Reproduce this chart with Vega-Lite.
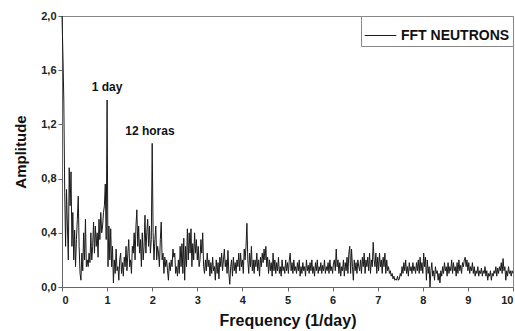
{
  "$schema": "https://vega.github.io/schema/vega-lite/v6.json",
  "width": 451,
  "height": 271,
  "autosize": {"type": "none"},
  "padding": {"left": 62, "top": 16, "right": 2, "bottom": 44},
  "background": "white",
  "config": {
    "view": {"stroke": "#888", "strokeWidth": 1},
    "font": "Liberation Sans",
    "axis": {
      "grid": false,
      "domainColor": "#666",
      "tickColor": "#666",
      "tickSize": 4,
      "labelFont": "Liberation Sans",
      "labelFontWeight": "bold",
      "labelFontSize": 11,
      "labelColor": "#222",
      "titleFont": "Liberation Sans",
      "titleFontWeight": "bold",
      "titleFontSize": 15,
      "titleColor": "#111"
    }
  },
  "datasets": {
    "fft": [
      {"f":0.00,"a":2.0},{"f":0.02,"a":1.72},{"f":0.04,"a":1.38},{"f":0.06,"a":0.7},{"f":0.08,"a":0.3},{"f":0.10,"a":0.72},{"f":0.12,"a":0.45},{"f":0.14,"a":0.2},{"f":0.16,"a":0.88},{"f":0.18,"a":0.6},
      {"f":0.20,"a":0.85},{"f":0.22,"a":0.3},{"f":0.24,"a":0.55},{"f":0.26,"a":0.2},{"f":0.28,"a":0.42},{"f":0.30,"a":0.15},{"f":0.32,"a":0.35},{"f":0.34,"a":0.5},{"f":0.36,"a":0.67},{"f":0.38,"a":0.3},
      {"f":0.40,"a":0.1},{"f":0.42,"a":0.05},{"f":0.44,"a":0.25},{"f":0.46,"a":0.12},{"f":0.48,"a":0.4},{"f":0.50,"a":0.2},{"f":0.52,"a":0.5},{"f":0.54,"a":0.15},{"f":0.56,"a":0.2},{"f":0.58,"a":0.15},
      {"f":0.60,"a":0.25},{"f":0.62,"a":0.18},{"f":0.64,"a":0.4},{"f":0.66,"a":0.2},{"f":0.68,"a":0.3},{"f":0.70,"a":0.48},{"f":0.72,"a":0.25},{"f":0.74,"a":0.45},{"f":0.76,"a":0.3},{"f":0.78,"a":0.4},
      {"f":0.80,"a":0.22},{"f":0.82,"a":0.5},{"f":0.84,"a":0.35},{"f":0.86,"a":0.55},{"f":0.88,"a":0.4},{"f":0.90,"a":0.45},{"f":0.92,"a":0.55},{"f":0.94,"a":0.6},{"f":0.96,"a":0.76},{"f":0.98,"a":0.35},
      {"f":1.00,"a":1.38},{"f":1.02,"a":0.15},{"f":1.04,"a":0.45},{"f":1.06,"a":0.2},{"f":1.08,"a":0.43},{"f":1.10,"a":0.15},{"f":1.12,"a":0.3},{"f":1.14,"a":0.03},{"f":1.16,"a":0.2},{"f":1.18,"a":0.1},
      {"f":1.20,"a":0.28},{"f":1.22,"a":0.12},{"f":1.24,"a":0.15},{"f":1.26,"a":0.05},{"f":1.28,"a":0.2},{"f":1.30,"a":0.25},{"f":1.32,"a":0.1},{"f":1.34,"a":0.18},{"f":1.36,"a":0.08},{"f":1.38,"a":0.22},
      {"f":1.40,"a":0.15},{"f":1.42,"a":0.3},{"f":1.44,"a":0.12},{"f":1.46,"a":0.25},{"f":1.48,"a":0.35},{"f":1.50,"a":0.15},{"f":1.52,"a":0.2},{"f":1.54,"a":0.1},{"f":1.56,"a":0.3},{"f":1.58,"a":0.25},
      {"f":1.60,"a":0.4},{"f":1.62,"a":0.2},{"f":1.64,"a":0.45},{"f":1.66,"a":0.57},{"f":1.68,"a":0.3},{"f":1.70,"a":0.45},{"f":1.72,"a":0.25},{"f":1.74,"a":0.35},{"f":1.76,"a":0.15},{"f":1.78,"a":0.4},
      {"f":1.80,"a":0.2},{"f":1.82,"a":0.3},{"f":1.84,"a":0.53},{"f":1.86,"a":0.25},{"f":1.88,"a":0.4},{"f":1.90,"a":0.5},{"f":1.92,"a":0.3},{"f":1.94,"a":0.45},{"f":1.96,"a":0.25},{"f":1.98,"a":0.35},
      {"f":2.00,"a":1.06},{"f":2.02,"a":0.4},{"f":2.04,"a":0.2},{"f":2.06,"a":0.35},{"f":2.08,"a":0.45},{"f":2.10,"a":0.2},{"f":2.12,"a":0.3},{"f":2.14,"a":0.25},{"f":2.16,"a":0.15},{"f":2.18,"a":0.35},
      {"f":2.20,"a":0.48},{"f":2.22,"a":0.2},{"f":2.24,"a":0.25},{"f":2.26,"a":0.1},{"f":2.28,"a":0.22},{"f":2.30,"a":0.15},{"f":2.32,"a":0.2},{"f":2.34,"a":0.12},{"f":2.36,"a":0.05},{"f":2.38,"a":0.18},
      {"f":2.40,"a":0.12},{"f":2.42,"a":0.2},{"f":2.44,"a":0.15},{"f":2.46,"a":0.28},{"f":2.48,"a":0.22},{"f":2.50,"a":0.25},{"f":2.52,"a":0.1},{"f":2.54,"a":0.15},{"f":2.56,"a":0.08},{"f":2.58,"a":0.2},
      {"f":2.60,"a":0.1},{"f":2.62,"a":0.3},{"f":2.64,"a":0.15},{"f":2.66,"a":0.32},{"f":2.68,"a":0.1},{"f":2.70,"a":0.36},{"f":2.72,"a":0.05},{"f":2.74,"a":0.3},{"f":2.76,"a":0.15},{"f":2.78,"a":0.43},
      {"f":2.80,"a":0.2},{"f":2.82,"a":0.4},{"f":2.84,"a":0.25},{"f":2.86,"a":0.43},{"f":2.88,"a":0.15},{"f":2.90,"a":0.32},{"f":2.92,"a":0.2},{"f":2.94,"a":0.4},{"f":2.96,"a":0.25},{"f":2.98,"a":0.35},
      {"f":3.00,"a":0.2},{"f":3.02,"a":0.3},{"f":3.04,"a":0.15},{"f":3.06,"a":0.2},{"f":3.08,"a":0.35},{"f":3.10,"a":0.25},{"f":3.12,"a":0.4},{"f":3.14,"a":0.15},{"f":3.16,"a":0.1},{"f":3.18,"a":0.2},
      {"f":3.20,"a":0.12},{"f":3.22,"a":0.25},{"f":3.24,"a":0.15},{"f":3.26,"a":0.2},{"f":3.28,"a":0.08},{"f":3.30,"a":0.18},{"f":3.32,"a":0.1},{"f":3.34,"a":0.22},{"f":3.36,"a":0.12},{"f":3.38,"a":0.15},
      {"f":3.40,"a":0.05},{"f":3.42,"a":0.2},{"f":3.44,"a":0.1},{"f":3.46,"a":0.18},{"f":3.48,"a":0.06},{"f":3.50,"a":0.22},{"f":3.52,"a":0.15},{"f":3.54,"a":0.25},{"f":3.56,"a":0.12},{"f":3.58,"a":0.2},
      {"f":3.60,"a":0.28},{"f":3.62,"a":0.15},{"f":3.64,"a":0.2},{"f":3.66,"a":0.1},{"f":3.68,"a":0.27},{"f":3.70,"a":0.1},{"f":3.72,"a":0.02},{"f":3.74,"a":0.15},{"f":3.76,"a":0.2},{"f":3.78,"a":0.08},
      {"f":3.80,"a":0.22},{"f":3.82,"a":0.12},{"f":3.84,"a":0.18},{"f":3.86,"a":0.1},{"f":3.88,"a":0.2},{"f":3.90,"a":0.15},{"f":3.92,"a":0.25},{"f":3.94,"a":0.12},{"f":3.96,"a":0.25},{"f":3.98,"a":0.15},
      {"f":4.00,"a":0.2},{"f":4.02,"a":0.1},{"f":4.04,"a":0.28},{"f":4.06,"a":0.2},{"f":4.08,"a":0.3},{"f":4.10,"a":0.47},{"f":4.12,"a":0.2},{"f":4.14,"a":0.1},{"f":4.16,"a":0.25},{"f":4.18,"a":0.15},
      {"f":4.20,"a":0.3},{"f":4.22,"a":0.12},{"f":4.24,"a":0.2},{"f":4.26,"a":0.1},{"f":4.28,"a":0.2},{"f":4.30,"a":0.15},{"f":4.32,"a":0.25},{"f":4.34,"a":0.12},{"f":4.36,"a":0.2},{"f":4.38,"a":0.08},
      {"f":4.40,"a":0.22},{"f":4.42,"a":0.15},{"f":4.44,"a":0.25},{"f":4.46,"a":0.18},{"f":4.48,"a":0.28},{"f":4.50,"a":0.2},{"f":4.52,"a":0.3},{"f":4.54,"a":0.15},{"f":4.56,"a":0.22},{"f":4.58,"a":0.1},
      {"f":4.60,"a":0.2},{"f":4.62,"a":0.12},{"f":4.64,"a":0.18},{"f":4.66,"a":0.08},{"f":4.68,"a":0.25},{"f":4.70,"a":0.12},{"f":4.72,"a":0.2},{"f":4.74,"a":0.1},{"f":4.76,"a":0.18},{"f":4.78,"a":0.12},
      {"f":4.80,"a":0.22},{"f":4.82,"a":0.1},{"f":4.84,"a":0.15},{"f":4.86,"a":0.08},{"f":4.88,"a":0.2},{"f":4.90,"a":0.12},{"f":4.92,"a":0.15},{"f":4.94,"a":0.1},{"f":4.96,"a":0.2},{"f":4.98,"a":0.12},
      {"f":5.00,"a":0.18},{"f":5.02,"a":0.1},{"f":5.04,"a":0.2},{"f":5.06,"a":0.25},{"f":5.08,"a":0.12},{"f":5.10,"a":0.18},{"f":5.12,"a":0.1},{"f":5.14,"a":0.2},{"f":5.16,"a":0.12},{"f":5.18,"a":0.15},
      {"f":5.20,"a":0.1},{"f":5.22,"a":0.18},{"f":5.24,"a":0.12},{"f":5.26,"a":0.2},{"f":5.28,"a":0.08},{"f":5.30,"a":0.15},{"f":5.32,"a":0.1},{"f":5.34,"a":0.18},{"f":5.36,"a":0.12},{"f":5.38,"a":0.15},
      {"f":5.40,"a":0.08},{"f":5.42,"a":0.2},{"f":5.44,"a":0.12},{"f":5.46,"a":0.16},{"f":5.48,"a":0.1},{"f":5.50,"a":0.18},{"f":5.52,"a":0.12},{"f":5.54,"a":0.2},{"f":5.56,"a":0.1},{"f":5.58,"a":0.15},
      {"f":5.60,"a":0.08},{"f":5.62,"a":0.18},{"f":5.64,"a":0.12},{"f":5.66,"a":0.2},{"f":5.68,"a":0.1},{"f":5.70,"a":0.15},{"f":5.72,"a":0.12},{"f":5.74,"a":0.18},{"f":5.76,"a":0.1},{"f":5.78,"a":0.16},
      {"f":5.80,"a":0.12},{"f":5.82,"a":0.2},{"f":5.84,"a":0.1},{"f":5.86,"a":0.15},{"f":5.88,"a":0.12},{"f":5.90,"a":0.18},{"f":5.92,"a":0.1},{"f":5.94,"a":0.2},{"f":5.96,"a":0.12},{"f":5.98,"a":0.15},
      {"f":6.00,"a":0.1},{"f":6.02,"a":0.18},{"f":6.04,"a":0.2},{"f":6.06,"a":0.12},{"f":6.08,"a":0.28},{"f":6.10,"a":0.15},{"f":6.12,"a":0.2},{"f":6.14,"a":0.1},{"f":6.16,"a":0.18},{"f":6.18,"a":0.08},
      {"f":6.20,"a":0.15},{"f":6.22,"a":0.12},{"f":6.24,"a":0.2},{"f":6.26,"a":0.08},{"f":6.28,"a":0.18},{"f":6.30,"a":0.12},{"f":6.32,"a":0.22},{"f":6.34,"a":0.1},{"f":6.36,"a":0.25},{"f":6.38,"a":0.3},
      {"f":6.40,"a":0.1},{"f":6.42,"a":0.28},{"f":6.44,"a":0.15},{"f":6.46,"a":0.05},{"f":6.48,"a":0.2},{"f":6.50,"a":0.12},{"f":6.52,"a":0.18},{"f":6.54,"a":0.1},{"f":6.56,"a":0.2},{"f":6.58,"a":0.15},
      {"f":6.60,"a":0.12},{"f":6.62,"a":0.2},{"f":6.64,"a":0.1},{"f":6.66,"a":0.22},{"f":6.68,"a":0.15},{"f":6.70,"a":0.25},{"f":6.72,"a":0.1},{"f":6.74,"a":0.2},{"f":6.76,"a":0.15},{"f":6.78,"a":0.22},
      {"f":6.80,"a":0.12},{"f":6.82,"a":0.25},{"f":6.84,"a":0.1},{"f":6.86,"a":0.2},{"f":6.88,"a":0.15},{"f":6.90,"a":0.33},{"f":6.92,"a":0.2},{"f":6.94,"a":0.15},{"f":6.96,"a":0.25},{"f":6.98,"a":0.1},
      {"f":7.00,"a":0.22},{"f":7.02,"a":0.12},{"f":7.04,"a":0.25},{"f":7.06,"a":0.15},{"f":7.08,"a":0.2},{"f":7.10,"a":0.1},{"f":7.12,"a":0.22},{"f":7.14,"a":0.15},{"f":7.16,"a":0.25},{"f":7.18,"a":0.1},
      {"f":7.20,"a":0.2},{"f":7.22,"a":0.12},{"f":7.24,"a":0.15},{"f":7.26,"a":0.1},{"f":7.28,"a":0.12},{"f":7.30,"a":0.08},{"f":7.32,"a":0.1},{"f":7.34,"a":0.06},{"f":7.36,"a":0.08},{"f":7.38,"a":0.05},
      {"f":7.40,"a":0.06},{"f":7.42,"a":0.05},{"f":7.44,"a":0.08},{"f":7.46,"a":0.05},{"f":7.48,"a":0.06},{"f":7.50,"a":0.1},{"f":7.52,"a":0.08},{"f":7.54,"a":0.15},{"f":7.56,"a":0.1},{"f":7.58,"a":0.18},
      {"f":7.60,"a":0.12},{"f":7.62,"a":0.2},{"f":7.64,"a":0.1},{"f":7.66,"a":0.15},{"f":7.68,"a":0.08},{"f":7.70,"a":0.18},{"f":7.72,"a":0.12},{"f":7.74,"a":0.15},{"f":7.76,"a":0.1},{"f":7.78,"a":0.18},
      {"f":7.80,"a":0.12},{"f":7.82,"a":0.15},{"f":7.84,"a":0.1},{"f":7.86,"a":0.18},{"f":7.88,"a":0.12},{"f":7.90,"a":0.2},{"f":7.92,"a":0.1},{"f":7.94,"a":0.22},{"f":7.96,"a":0.12},{"f":7.98,"a":0.18},
      {"f":8.00,"a":0.1},{"f":8.02,"a":0.25},{"f":8.04,"a":0.15},{"f":8.06,"a":0.22},{"f":8.08,"a":0.05},{"f":8.10,"a":0.2},{"f":8.12,"a":0.1},{"f":8.14,"a":0.15},{"f":8.16,"a":0.0},{"f":8.18,"a":0.12},
      {"f":8.20,"a":0.18},{"f":8.22,"a":0.08},{"f":8.24,"a":0.12},{"f":8.26,"a":0.05},{"f":8.28,"a":0.15},{"f":8.30,"a":0.1},{"f":8.32,"a":0.12},{"f":8.34,"a":0.05},{"f":8.36,"a":0.1},{"f":8.38,"a":0.03},
      {"f":8.40,"a":0.12},{"f":8.42,"a":0.08},{"f":8.44,"a":0.15},{"f":8.46,"a":0.1},{"f":8.48,"a":0.18},{"f":8.50,"a":0.12},{"f":8.52,"a":0.15},{"f":8.54,"a":0.08},{"f":8.56,"a":0.18},{"f":8.58,"a":0.1},
      {"f":8.60,"a":0.15},{"f":8.62,"a":0.12},{"f":8.64,"a":0.2},{"f":8.66,"a":0.1},{"f":8.68,"a":0.18},{"f":8.70,"a":0.12},{"f":8.72,"a":0.15},{"f":8.74,"a":0.08},{"f":8.76,"a":0.18},{"f":8.78,"a":0.1},
      {"f":8.80,"a":0.2},{"f":8.82,"a":0.12},{"f":8.84,"a":0.16},{"f":8.86,"a":0.1},{"f":8.88,"a":0.18},{"f":8.90,"a":0.15},{"f":8.92,"a":0.2},{"f":8.94,"a":0.22},{"f":8.96,"a":0.15},{"f":8.98,"a":0.2},
      {"f":9.00,"a":0.12},{"f":9.02,"a":0.18},{"f":9.04,"a":0.1},{"f":9.06,"a":0.15},{"f":9.08,"a":0.12},{"f":9.10,"a":0.18},{"f":9.12,"a":0.1},{"f":9.14,"a":0.15},{"f":9.16,"a":0.08},{"f":9.18,"a":0.12},
      {"f":9.20,"a":0.1},{"f":9.22,"a":0.15},{"f":9.24,"a":0.08},{"f":9.26,"a":0.12},{"f":9.28,"a":0.1},{"f":9.30,"a":0.14},{"f":9.32,"a":0.08},{"f":9.34,"a":0.12},{"f":9.36,"a":0.1},{"f":9.38,"a":0.15},
      {"f":9.40,"a":0.08},{"f":9.42,"a":0.12},{"f":9.44,"a":0.05},{"f":9.46,"a":0.1},{"f":9.48,"a":0.08},{"f":9.50,"a":0.12},{"f":9.52,"a":0.05},{"f":9.54,"a":0.1},{"f":9.56,"a":0.08},{"f":9.58,"a":0.12},
      {"f":9.60,"a":0.1},{"f":9.62,"a":0.15},{"f":9.64,"a":0.08},{"f":9.66,"a":0.14},{"f":9.68,"a":0.1},{"f":9.70,"a":0.15},{"f":9.72,"a":0.12},{"f":9.74,"a":0.18},{"f":9.76,"a":0.1},{"f":9.78,"a":0.21},
      {"f":9.80,"a":0.12},{"f":9.82,"a":0.15},{"f":9.84,"a":0.05},{"f":9.86,"a":0.12},{"f":9.88,"a":0.08},{"f":9.90,"a":0.15},{"f":9.92,"a":0.1},{"f":9.94,"a":0.12},{"f":9.96,"a":0.08},{"f":9.98,"a":0.12},
      {"f":10.00,"a":0.1}
    ],
    "notes": [
      {"f": 1.0, "a": 1.476, "t": "1 day"},
      {"f": 1.95, "a": 1.15, "t": "12 horas"}
    ]
  },
  "layer": [
    {
      "data": {"name": "fft"},
      "mark": {"type": "line", "strokeWidth": 1, "interpolate": "linear"},
      "encoding": {
        "x": {
          "field": "f", "type": "quantitative",
          "scale": {"domain": [0, 10], "nice": false},
          "axis": {
            "title": "Frequency (1/day)",
            "values": [0,0.5,1,1.5,2,2.5,3,3.5,4,4.5,5,5.5,6,6.5,7,7.5,8,8.5,9,9.5,10],
            "labelExpr": "datum.value % 1 === 0 ? datum.label : ''",
            "labelPadding": 3,
            "titlePadding": 7,
            "titleFontSize": 16
          }
        },
        "y": {
          "field": "a", "type": "quantitative",
          "scale": {"domain": [0, 2], "nice": false},
          "axis": {
            "title": "Amplitude",
            "values": [0,0.2,0.4,0.6,0.8,1.0,1.2,1.4,1.6,1.8,2.0],
            "labelExpr": "(round(datum.value*10) % 4 === 0) ? replace(format(datum.value, '.1f'), '.', ',') : ''",
            "labelPadding": 2,
            "titlePadding": 12
          }
        },
        "color": {
          "datum": "FFT NEUTRONS",
          "scale": {"range": ["#1a1a1a"]},
          "legend": {
            "title": null,
            "orient": "top-right",
            "offset": 0,
            "symbolType": "stroke",
            "symbolSize": 1000,
            "symbolStrokeWidth": 1,
            "labelFont": "Liberation Sans",
            "labelFontWeight": "bold",
            "labelFontSize": 14,
            "labelColor": "#111",
            "strokeColor": "#888",
            "fillColor": "white",
            "padding": 3,
            "labelOffset": 4
          }
        }
      }
    },
    {
      "data": {"name": "notes"},
      "mark": {"type": "text", "font": "Liberation Sans", "fontWeight": "bold", "fontSize": 12, "baseline": "middle", "align": "center", "color": "#111"},
      "encoding": {
        "x": {"field": "f", "type": "quantitative"},
        "y": {"field": "a", "type": "quantitative"},
        "text": {"field": "t"}
      }
    }
  ]
}
